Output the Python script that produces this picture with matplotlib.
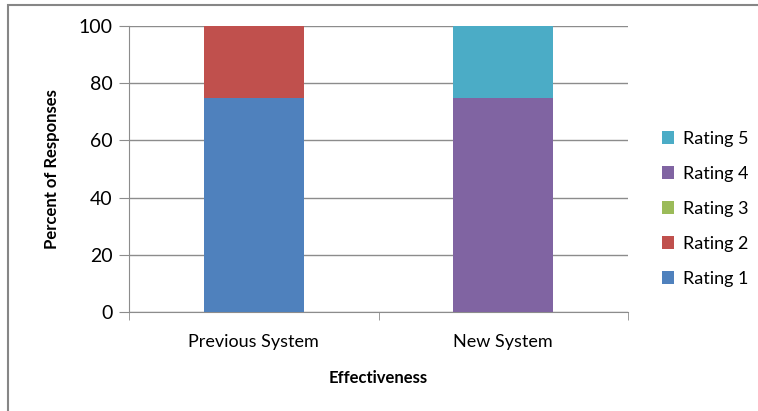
import matplotlib.pyplot as plt
from matplotlib.patches import Rectangle
import numpy as np

categories = ["Previous System", "New System"]
series_names = ["Rating 1", "Rating 2", "Rating 3", "Rating 4", "Rating 5"]
rating_1 = [75, 0]
rating_2 = [25, 0]
rating_3 = [0, 0]
rating_4 = [0, 75]
rating_5 = [0, 25]
colors = ["#4F81BD", "#C0504D", "#9BBB59", "#8064A2", "#4BACC6"]

plt.rcParams['font.family'] = ['Lato', 'DejaVu Sans']

fig = plt.figure(figsize=(7.58, 4.11), dpi=100)
ax = fig.add_axes([129 / 758, 1 - 312 / 411, (628 - 129) / 758, (312 - 26) / 411])

# chart border (cut off at right and bottom)
fig.patches.append(Rectangle((8 / 758, -0.1), 1.2, 1 - 5 / 411 + 0.1,
                             transform=fig.transFigure, fill=False,
                             edgecolor='#868686', linewidth=1.5))

x = np.arange(len(categories))
bottom = np.zeros(len(categories))
for name, vals, c in zip(series_names,
                         [rating_1, rating_2, rating_3, rating_4, rating_5],
                         colors):
    ax.bar(x, vals, 0.4, bottom=bottom, color=c, label=name, zorder=3)
    bottom += np.array(vals)

ax.set_xlim(-0.5, 1.5)
ax.set_ylim(0, 100)
ax.set_yticks(range(0, 101, 20))
ax.yaxis.grid(True, color='#8c8c8c', linewidth=1)
ax.set_axisbelow(True)
for s in ['top', 'right']:
    ax.spines[s].set_visible(False)
ax.spines['left'].set_color('#8c8c8c')
ax.spines['bottom'].set_color('#8c8c8c')

ax.set_xticks(x)
ax.set_xticklabels(categories, fontsize=13)
ax.tick_params(axis='x', length=0, pad=16)
ax.set_xticks([-0.5, 0.5, 1.5], minor=True)
ax.tick_params(axis='x', which='minor', length=6, color='#8c8c8c')
ax.tick_params(axis='y', length=7, color='#8c8c8c', labelsize=14, pad=5)

ax.set_xlabel("Effectiveness", fontsize=12, fontweight='bold', labelpad=14)
ax.set_ylabel("Percent of Responses", fontsize=12, fontweight='bold', labelpad=13)

handles, labels = ax.get_legend_handles_labels()
ax.legend(handles[::-1], labels[::-1], loc='center left',
          bbox_to_anchor=(1.035, 0.36), frameon=False, fontsize=13,
          handlelength=0.7, handleheight=0.7, handletextpad=0.5,
          labelspacing=1.05)

fig.savefig("out.png", dpi=100)
